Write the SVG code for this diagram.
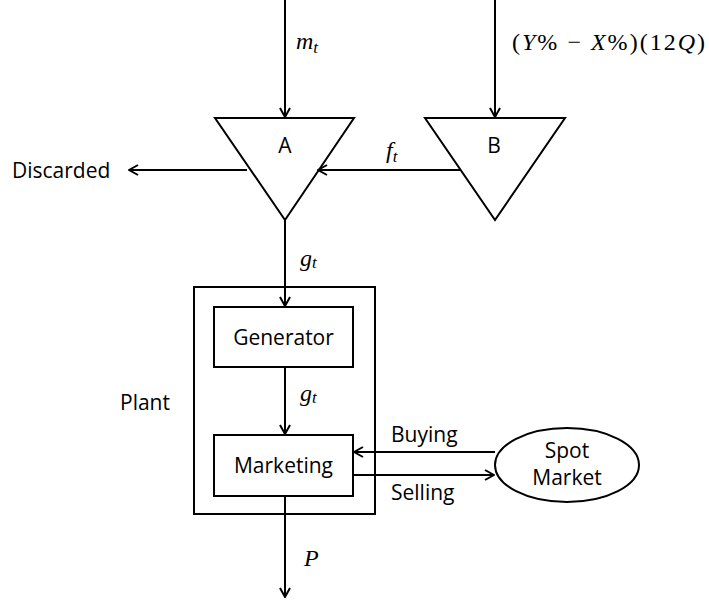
<svg xmlns="http://www.w3.org/2000/svg" width="709" height="602" viewBox="0 0 709 602">
<style>
.ln{stroke:#000;stroke-width:2;fill:none}
.sh{stroke:#000;stroke-width:2;fill:#fff}
.t{font-family:"Open Sans","Noto Sans",sans-serif;font-size:21px;fill:#000}
.m{font-family:"Liberation Serif",serif;font-style:italic;font-size:24px;fill:#000}
.mn{font-family:"Liberation Serif",serif;font-style:normal;font-size:24px;fill:#000}
.sub{font-size:17px}
</style>
<defs>
<marker id="ah" viewBox="0 0 12 12" refX="11" refY="6" markerWidth="12" markerHeight="12" markerUnits="userSpaceOnUse" orient="auto">
<polyline points="2,1 11,6 2,11" fill="none" stroke="#000" stroke-width="2"/>
</marker>
</defs>
<rect width="709" height="602" fill="#fff"/>
<g id="plant">
<rect class="ln" x="194" y="287" width="181" height="227"/>
<text class="t" x="120" y="410">Plant</text>
</g>
<g id="A">
<polygon class="sh" points="215,118 354,118 285,220"/>
<text class="t" x="285" y="153" text-anchor="middle">A</text>
</g>
<g id="B">
<polygon class="sh" points="425,118 565,118 495,220"/>
<text class="t" x="494" y="153" text-anchor="middle">B</text>
</g>
<g id="generator">
<rect class="sh" x="214" y="307" width="139" height="60"/>
<text class="t" x="283.5" y="345" text-anchor="middle">Generator</text>
</g>
<g id="marketing">
<rect class="sh" x="214" y="435" width="139" height="61"/>
<text class="t" x="283.5" y="473" text-anchor="middle">Marketing</text>
</g>
<g id="spot">
<ellipse class="sh" cx="567" cy="465" rx="72" ry="37"/>
<text class="t" x="567" y="458" text-anchor="middle">Spot</text>
<text class="t" x="567" y="485" text-anchor="middle">Market</text>
</g>
<g id="discarded">
<text class="t" x="12" y="178">Discarded</text>
</g>
<g id="connectors">
<line class="ln" x1="285" y1="0" x2="285" y2="117" marker-end="url(#ah)"/>
<line class="ln" x1="495" y1="0" x2="495" y2="117" marker-end="url(#ah)"/>
<line class="ln" x1="460" y1="170" x2="318" y2="170" marker-end="url(#ah)"/>
<line class="ln" x1="247" y1="170" x2="129" y2="170" marker-end="url(#ah)"/>
<line class="ln" x1="285" y1="220" x2="285" y2="306" marker-end="url(#ah)"/>
<line class="ln" x1="285" y1="367" x2="285" y2="434" marker-end="url(#ah)"/>
<line class="ln" x1="495" y1="452" x2="354" y2="452" marker-end="url(#ah)"/>
<line class="ln" x1="353" y1="475" x2="494" y2="475" marker-end="url(#ah)"/>
<line class="ln" x1="285" y1="496" x2="285" y2="597" marker-end="url(#ah)"/>
<text class="m" x="296" y="49">m<tspan class="sub" dy="4">t</tspan></text>
<text class="mn" x="512" y="50" textLength="193" lengthAdjust="spacing">(<tspan class="m">Y</tspan>% − <tspan class="m">X</tspan>%)(12<tspan class="m">Q</tspan>)</text>
<text class="m" x="386" y="158">f<tspan class="sub" dy="4">t</tspan></text>
<text class="m" x="300" y="266">g<tspan class="sub" dy="2">t</tspan></text>
<text class="m" x="300" y="401">g<tspan class="sub" dy="2">t</tspan></text>
<text class="t" x="391" y="442">Buying</text>
<text class="t" x="391" y="500">Selling</text>
<text class="m" x="304" y="566">P</text>
</g>
</svg>
